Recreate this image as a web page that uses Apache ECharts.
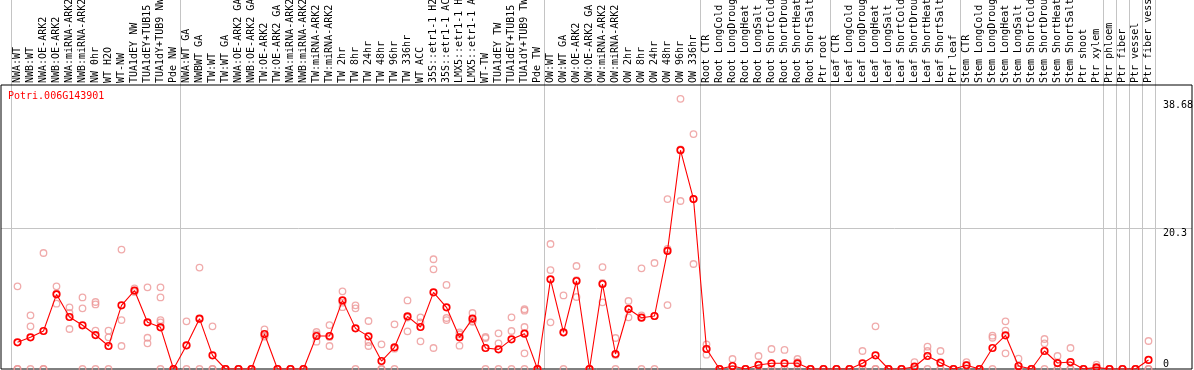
<!DOCTYPE html>
<html><head><meta charset="utf-8">
<script src="https://cdn.jsdelivr.net/npm/echarts@6/dist/echarts.min.js"></script>
<style>html,body{margin:0;padding:0;background:#fff}#c{width:1194px;height:370px}</style>
</head><body><div id="c"></div><script>
const categories = [
 'NWA:WT','NWB:WT','NWA:OE-ARK2','NWB:OE-ARK2','NWA:miRNA-ARK2','NWB:miRNA-ARK2','NW 0hr','WT H2O','WT-NW','TUA1dEY NW','TUA1dEY+TUB15 NW','TUA1dY+TUB9 NW','Pde NW',
 'NWA:WT GA','NWBWT GA','TW:WT','TW:WT GA','NWA:OE-ARK2 GA','NWB:OE-ARK2 GA','TW:OE-ARK2','TW:OE-ARK2 GA','NWA:miRNA-ARK2 GA','NWB:miRNA-ARK2 GA','TW:miRNA-ARK2','TW:miRNA-ARK2',
 'TW 2hr','TW 8hr','TW 24hr','TW 48hr','TW 96hr','TW 336hr','WT ACC','35S::etr1-1 H2O','35S::etr1-1 ACC','LMX5::etr1-1 H2O','LMX5::etr1-1 ACC','WT-TW','TUA1dEY TW','TUA1dEY+TUB15 TW','TUA1dY+TUB9 TW','Pde TW',
 'OW:WT','OW:WT GA','OW:OE-ARK2','OW:OE-ARK2 GA','OW:miRNA-ARK2','OW:miRNA-ARK2','OW 2hr','OW 8hr','OW 24hr','OW 48hr','OW 96hr','OW 336hr',
 'Root CTR','Root LongCold','Root LongDrought','Root LongHeat','Root LongSalt','Root ShortCold','Root ShortDrought','Root ShortHeat','Root ShortSalt','Ptr root',
 'Leaf CTR','Leaf LongCold','Leaf LongDrought','Leaf LongHeat','Leaf LongSalt','Leaf ShortCold','Leaf ShortDrought','Leaf ShortHeat','Leaf ShortSalt','Ptr leaf',
 'Stem CTR','Stem LongCold','Stem LongDrought','Stem LongHeat','Stem LongSalt','Stem ShortCold','Stem ShortDrought','Stem ShortHeat','Stem ShortSalt','Ptr shoot',
 'Ptr xylem','Ptr phloem','Ptr fiber','Ptr vessel','Ptr fiber vessel'
];
const means = [
 3.84,4.56,5.47,10.75,7.49,6.29,4.89,3.31,9.17,11.3,6.72,6.0,0,
 3.41,7.25,1.97,0,0,0,5.04,0,0,0,4.75,4.75,
 9.88,5.85,4.7,1.15,3.12,7.58,6.05,11.04,8.88,4.56,7.25,3.02,2.83,4.27,5.09,0,
 12.91,5.28,12.67,0,12.24,2.16,8.64,7.39,7.63,17.0,31.5,24.47,
 2.88,0,0.43,0,0.58,0.82,0.82,0.82,0,0,
 0,0,0.82,1.97,0,0,0.33,1.87,0.91,0,
 0.53,0,3.02,4.85,0.43,0,2.59,0.86,1.0,0,
 0.24,0,0,0,1.3
];
const replicates = [
 [11.9,0,0],[7.73,6.15,0],[16.7,0,0],[11.9,9.4,10.9],[8.88,8.06,5.76],[10.3,8.73,0],[9.65,9.3,5.52,0],[5.52,4.56,0],[17.2,7.05,3.31],[11.6,11.2,11.1],[11.76,4.5,3.7],[11.76,10.3,7.05,6.7,0],[0,0,0],
 [6.86,3.37,0],[14.6,7.15,0],[6.15,0,0],[0,0,0],[0,0,0],[0,0,0],[5.71,4.65,4.8],[0,0,0],[0,0,0],[0,0,0],[5.33,3.94,4.98],[6.33,3.31,4.6],
 [11.18,9.55,8.9],[9.17,8.73,0],[6.91,3.89,3.31],[3.55,0,0],[6.43,2.93,0],[9.88,5.42,7.4],[7.44,6.72,3.98],[15.8,14.35,3.02],[12.1,7.34,7.05],[5.28,3.36,5.0],[8.06,6.91,6.8],[4.61,4.45,0],[5.14,3.7,0],[7.44,5.47,0],[8.6,8.4,6.05,2.26,0],[0,0,0],
 [18.0,14.25,6.72],[10.6,5.24,0],[14.83,10.37,12.8],[0,0,0],[14.68,9.6,12.4],[4.46,2.0,0],[9.79,7.44,8.6],[14.5,7.73,0],[15.26,7.6,0],[24.47,9.21,17.3],[38.9,24.19,31.6],[33.83,15.12,24.5],
 [3.55,2.06,2.9],[0,0,0],[1.44,0,0],[0,0,0],[1.87,0,0],[2.88,0,0],[2.74,0,0],[1.44,1.0,0],[0,0,0],[0,0,0],
 [0,0,0],[0,0,0],[2.59,0,0],[6.15,0,0],[0,0,0],[0,0,0],[1.0,0,0],[3.21,2.59,0],[2.59,0,0],[0,0,0],
 [1.0,0.6,0],[0,0,0],[4.8,4.5,0],[6.86,5.52,2.26],[1.49,0,0],[0,0,0],[4.32,3.7,0],[1.87,0,0],[3.02,0,0],[0,0,0],
 [0.62,0,0],[0,0,0],[0,0,0],[0,0,0],[4.03,0,0]
];
const geneId = 'Potri.006G143901';
const yTopLabels = [20.3, 38.68];
const yBottomLabels = [0];
const yGridValues = [20.3];
const groupStarts = [0,13,41,53,63,73,84,85,86,87];

const FONT = 'DejaVu Sans Mono';
const GRAY = '#c4c4c4';
const Y_MAX = 40.89;
const repPoints = [];
replicates.forEach((arr, i) => arr.forEach(v => repPoints.push([i, v])));
const splitFn = (idx) => groupStarts.includes(idx);

const chart = echarts.init(document.getElementById('c'), null, {renderer: 'canvas'});
chart.setOption({
  animation: false,
  backgroundColor: '#fff',
  title: {text: geneId, left: 8, top: 91, padding: 0,
    textStyle: {color: '#ff0000', fontFamily: FONT, fontSize: 10, fontWeight: 'normal'}},
  grid: [
    {left: 11, right: 39, top: 85, bottom: 1, outerBoundsMode: 'none', containLabel: false},
    {left: 11, right: 39, top: 0, height: 85, outerBoundsMode: 'none', containLabel: false},
    {left: 1, right: 2, top: 85, bottom: 1, outerBoundsMode: 'none', containLabel: false, show: true, borderColor: '#000', borderWidth: 1, backgroundColor: 'transparent', z: 1}
  ],
  xAxis: [
    {gridIndex: 0, type: 'category', data: categories, position: 'top', boundaryGap: true,
     axisLine: {show: false}, axisTick: {show: false},
     axisLabel: {interval: 0, rotate: 90, margin: 2, hideOverlap: false, fontFamily: FONT, fontSize: 10, color: '#000'},
     splitLine: {show: true, interval: splitFn, lineStyle: {color: GRAY, width: 1}}},
    {gridIndex: 1, type: 'category', data: categories, boundaryGap: true,
     axisLine: {show: false}, axisTick: {show: false}, axisLabel: {show: false},
     splitLine: {show: true, interval: splitFn, lineStyle: {color: GRAY, width: 1}}},
    {gridIndex: 2, type: 'value', min: 0, max: 1, show: false}
  ],
  yAxis: [
    {gridIndex: 0, type: 'value', min: 0, max: Y_MAX, position: 'right',
     axisLine: {show: false}, axisTick: {show: false}, splitLine: {show: false},
     axisLabel: {customValues: yTopLabels, verticalAlign: 'top', align: 'left', margin: 8, fontFamily: FONT, fontSize: 10, color: '#000'}},
    {gridIndex: 0, type: 'value', min: 0, max: Y_MAX, position: 'right',
     axisLine: {show: false}, axisTick: {show: false}, splitLine: {show: false},
     axisLabel: {customValues: yBottomLabels, verticalAlign: 'bottom', align: 'left', margin: 8, fontFamily: FONT, fontSize: 10, color: '#000'}},
    {gridIndex: 1, type: 'value', show: false},
    {gridIndex: 2, type: 'value', min: 0, max: Y_MAX,
     axisLine: {show: false}, axisTick: {show: false, customValues: yGridValues},
     axisLabel: {show: false}, splitLine: {show: true, lineStyle: {color: GRAY, width: 1}}}
  ],
  series: [
    {type: 'scatter', xAxisIndex: 0, yAxisIndex: 0, data: repPoints, symbol: 'circle', symbolSize: 6.5,
     itemStyle: {color: 'rgba(0,0,0,0)', borderColor: '#ec9696', borderWidth: 1.3}, z: 3, silent: true},
    {type: 'line', xAxisIndex: 0, yAxisIndex: 0, data: means, symbol: 'circle', symbolSize: 6.5, showAllSymbol: true,
     lineStyle: {color: '#ff0000', width: 1.1},
     itemStyle: {color: 'rgba(0,0,0,0)', borderColor: '#ff0000', borderWidth: 1.7}, z: 4, silent: true}
  ]
});
</script></body></html>
